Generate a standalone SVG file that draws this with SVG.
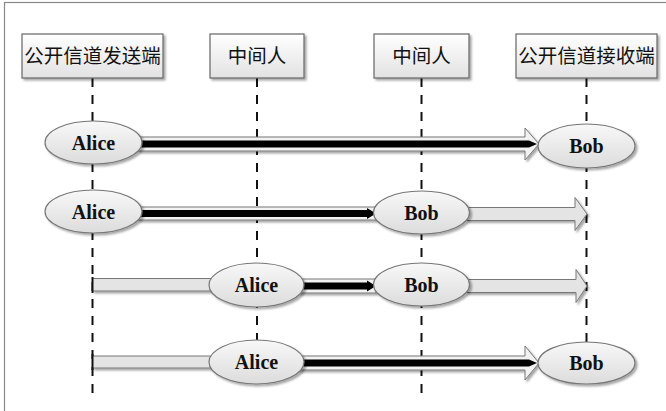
<svg xmlns="http://www.w3.org/2000/svg" width="666" height="411" viewBox="0 0 666 411">
<defs>
<linearGradient id="gBox" x1="0" y1="0" x2="0" y2="1"><stop offset="0" stop-color="#ffffff"/><stop offset="1" stop-color="#e2e2e2"/></linearGradient>
<linearGradient id="gEl" x1="0" y1="0" x2="0" y2="1"><stop offset="0" stop-color="#f8f8f8"/><stop offset="1" stop-color="#dcdcdc"/></linearGradient>
<filter id="sh" x="-20%" y="-30%" width="150%" height="170%"><feDropShadow dx="2" dy="2" stdDeviation="1.3" flood-color="#000" flood-opacity="0.35"/></filter>
<style>
.box{fill:url(#gBox);stroke:#666;stroke-width:1.2;filter:url(#sh)}
.hd{font-family:"Noto Sans CJK SC","Noto Sans CJK JP",sans-serif;font-size:19.5px;fill:#111;text-anchor:middle}
.life{stroke:#111;stroke-width:2;stroke-dasharray:9 8;fill:none}
.el{fill:url(#gEl);stroke:#777;stroke-width:1.2;filter:url(#sh)}
.nm{font-family:"Liberation Serif","Times New Roman",serif;font-weight:bold;font-size:20px;fill:#111;text-anchor:middle}
.outl{fill:#f2f2f2;stroke:#777;stroke-width:1;filter:url(#sh)}
.lt{fill:#e4e4e4;stroke:#777;stroke-width:1;filter:url(#sh)}
.core{fill:#000}
</style>
</defs>
<rect width="666" height="411" fill="#fff"/>
<rect x="4.5" y="2.5" width="670" height="420" fill="none" stroke="#888" stroke-width="1.2"/>

<g id="lifelines">
<line class="life" x1="92.5" y1="78" x2="92.5" y2="401"/>
<line class="life" x1="257" y1="78" x2="257" y2="350"/>
<line class="life" x1="421.5" y1="78" x2="421.5" y2="401"/>
<line class="life" x1="586.5" y1="78" x2="586.5" y2="350"/>
</g>

<g id="h1"><rect class="box" x="22" y="34" width="141" height="44"/><text class="hd" x="92.5" y="63">公开信道发送端</text></g>
<g id="h2"><rect class="box" x="210" y="34" width="94" height="44"/><text class="hd" x="257" y="63">中间人</text></g>
<g id="h3"><rect class="box" x="374" y="34" width="95" height="44"/><text class="hd" x="421.5" y="63">中间人</text></g>
<g id="h4"><rect class="box" x="516" y="34" width="141" height="44"/><text class="hd" x="586.5" y="63">公开信道接收端</text></g>

<g id="connectors">
<polygon class="outl" points="138,137 525,137 525,128 539,144 525,160 525,151 138,151"/>
<polygon class="core" points="138,140.5 529,140.5 537,144 529,147.5 138,147.5"/>
<polygon class="outl" points="138,207 376,207 376,220 138,220"/>
<polygon class="core" points="138,210 367,210 367,208 376,213.5 367,219 367,217 138,217"/>
<polygon class="lt" points="466,207.5 575,207.5 575,197.5 587,214 575,230.5 575,220.5 466,220.5"/>
<polygon class="lt" points="92.5,278.5 215,278.5 215,291 92.5,291"/>
<line x1="92.5" y1="277" x2="92.5" y2="293" stroke="#111" stroke-width="2"/>
<polygon class="outl" points="298,279 376,279 376,293 298,293"/>
<polygon class="core" points="298,282.5 367,282.5 367,280.5 376,286 367,291.5 367,289.5 298,289.5"/>
<polygon class="lt" points="466,279.5 576,279.5 576,269.5 587,286 576,302.5 576,292.5 466,292.5"/>
<polygon class="lt" points="92.5,356 215,356 215,368 92.5,368"/>
<line x1="92.5" y1="354" x2="92.5" y2="370" stroke="#111" stroke-width="2"/>
<polygon class="outl" points="298,356 525,356 525,346 539,363 525,380 525,370 298,370"/>
<polygon class="core" points="298,359.5 529,359.5 537,363 529,366.5 298,366.5"/>
</g>

<g id="alice1"><ellipse class="el" cx="93.5" cy="142.5" rx="48.5" ry="21.5"/><text class="nm" x="93.5" y="149.5">Alice</text></g>
<g id="bob1"><ellipse class="el" cx="586.5" cy="146" rx="48.5" ry="22"/><text class="nm" x="586.5" y="153">Bob</text></g>
<g id="alice2"><ellipse class="el" cx="93.5" cy="211.5" rx="48.5" ry="21.5"/><text class="nm" x="93.5" y="218.5">Alice</text></g>
<g id="bob2"><ellipse class="el" cx="421.5" cy="212.5" rx="48" ry="21.5"/><text class="nm" x="421.5" y="219.5">Bob</text></g>
<g id="alice3"><ellipse class="el" cx="256.5" cy="285" rx="47.5" ry="22"/><text class="nm" x="256.5" y="292">Alice</text></g>
<g id="bob3"><ellipse class="el" cx="421.5" cy="284.5" rx="48" ry="21.5"/><text class="nm" x="421.5" y="291.5">Bob</text></g>
<g id="alice4"><ellipse class="el" cx="256.5" cy="362" rx="47.5" ry="22"/><text class="nm" x="256.5" y="369">Alice</text></g>
<g id="bob4"><ellipse class="el" cx="586.5" cy="363" rx="48.5" ry="21"/><text class="nm" x="586.5" y="370">Bob</text></g>
</svg>
